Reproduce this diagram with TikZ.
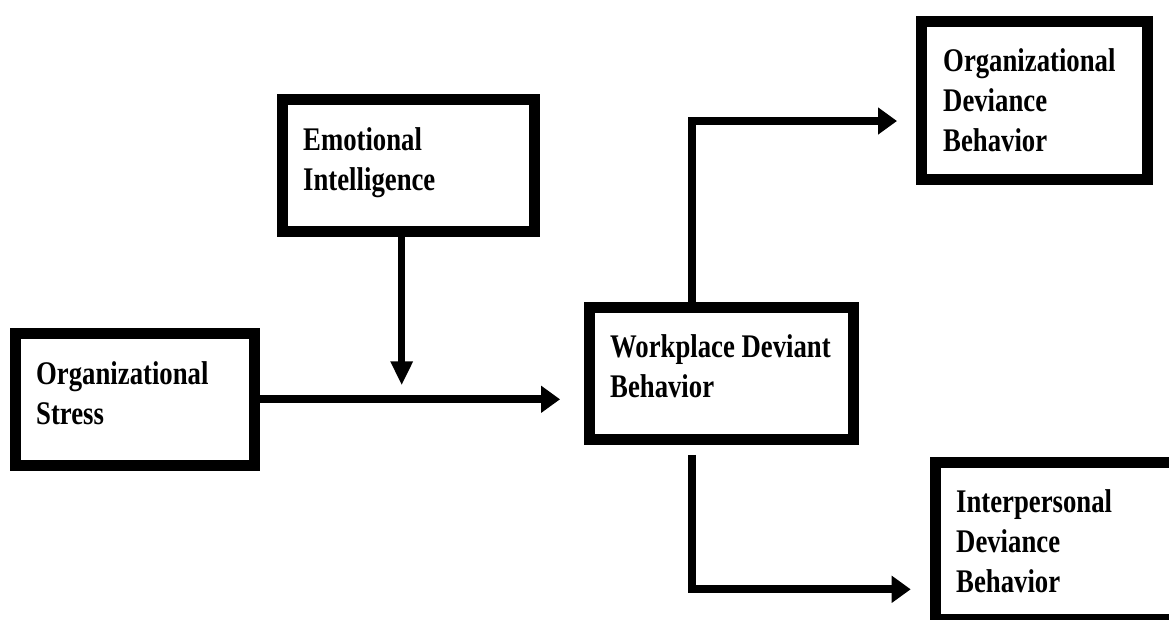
\documentclass[tikz,border=0pt]{standalone}
\usepackage{fontspec}
\newfontfamily\lblfam{Liberation Serif}[FakeStretch=0.81]
\usetikzlibrary{arrows.meta}
\tikzset{
  box/.style={draw, line width=11pt, inner sep=0pt, fill=none},
  lbl/.style={anchor=base west, inner sep=0pt, font=\lblfam\bfseries\fontsize{33}{40}\selectfont},
  arr/.style={line width=8pt, -{Triangle[length=19pt,width=26pt]}},
  arrv/.style={line width=7pt, -{Triangle[length=24pt,width=21pt]}}
}
\newcommand{\lines}[1]{\begin{tabular}[t]{@{}l@{}}#1\end{tabular}}
\begin{document}
\begin{tikzpicture}[x=1pt,y=-1pt]
\clip (0,0) rectangle (1169,619);
\fill[white] (0,0) rectangle (1169,619);
% boxes
\node[box, minimum width=252.5pt, minimum height=132pt] (ei) at (408.3,165) {};
\node[box, minimum width=239pt, minimum height=131.5pt] (os) at (135,399.3) {};
\node[box, minimum width=264.5pt, minimum height=132.3pt] (wdb) at (721.3,373.3) {};
\node[box, minimum width=226pt, minimum height=158pt] (odb) at (1034.5,100.5) {};
\node[box, minimum width=249.5pt, minimum height=156.2pt] (idb) at (1060.25,540.9) {};
% labels
\node[lbl] (eit) at (303,150) {\lines{Emotional\\Intelligence}};
\node[lbl] (ost) at (36,384) {\lines{Organizational\\Stress}};
\node[lbl] (wdbt) at (610,357.3) {\lines{Workplace Deviant\\Behavior}};
\node[lbl] (odbt) at (943,71.7) {\lines{Organizational\\Deviance\\Behavior}};
\node[lbl] (idbt) at (956,512.7) {\lines{Interpersonal\\Deviance\\Behavior}};
% connectors
\draw[arrv, shorten >=14pt] ([xshift=-6.6pt]ei.south) -- ([xshift=-6.6pt]ei.south |- os.east);
\draw[arr, shorten >=23.5pt] (os.east) -- (os.east -| wdb.west);
\draw[arr, shorten >=19pt] ([xshift=-29.6pt]wdb.north) |- ([yshift=-20.5pt]odb.west);
\draw[arr, shorten >=19.3pt] ([xshift=-29.6pt,yshift=-10pt]wdb.south) |- ([yshift=-48.4pt]idb.west);
\end{tikzpicture}
\end{document}
